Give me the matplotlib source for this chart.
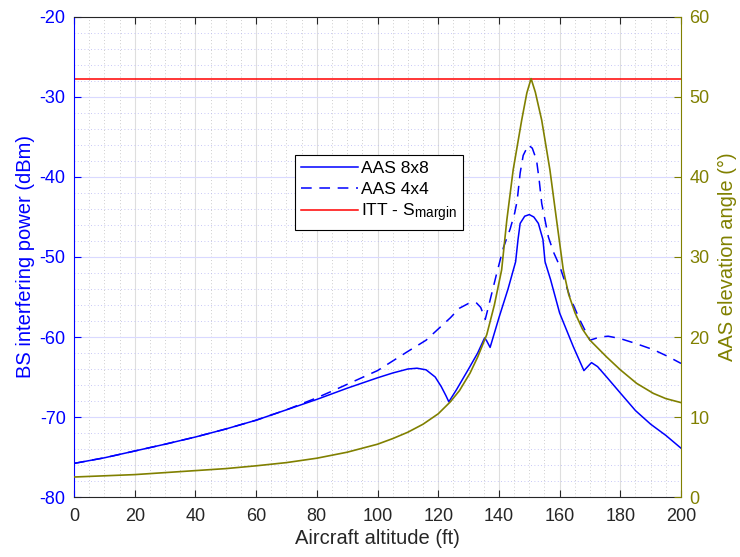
import numpy as np
import matplotlib
import matplotlib.pyplot as plt
from matplotlib.ticker import MultipleLocator

plt.rcParams['font.family'] = ['Liberation Sans', 'DejaVu Sans']
plt.rcParams['mathtext.default'] = 'regular'
plt.rcParams['axes.unicode_minus'] = False
# slightly bigger subscript, closer to the MATLAB look
matplotlib._mathtext.SHRINK_FACTOR = 0.78

# values
alt_8x8 = [0, 10, 20, 30, 40, 50, 60, 70, 80, 90, 100, 105, 110, 113, 116, 119, 121, 122.5,
           123.5, 126, 130, 133, 135.3, 136, 137.1, 140, 143, 145.5, 146.3, 147, 148.5, 150,
           151.5, 153, 154.5, 155.2, 157, 160, 164.5, 168, 170.5, 172.5, 175.5, 180, 185,
           190, 195, 200]
pwr_8x8 = [-75.8, -75.1, -74.25, -73.4, -72.5, -71.5, -70.4, -69.1, -67.8, -66.4, -65.1, -64.5,
           -64.0, -63.9, -64.1, -65.0, -66.2, -67.3, -68.1, -66.6, -64.0, -62.0, -60.1, -60.5,
           -61.3, -57.6, -54.0, -50.6, -47.8, -45.8, -44.9, -44.7, -45.0, -45.8, -47.8, -50.6,
           -52.8, -57.0, -61.2, -64.2, -63.2, -63.7, -65.0, -67.0, -69.2, -70.9, -72.3, -73.9]

alt_4x4 = [0, 10, 20, 30, 40, 50, 60, 70, 80, 86, 93, 100, 105, 110, 116, 120, 124, 127, 130,
           132.5, 134, 135.5, 136.5, 139.3, 141.5, 143.7, 145.2, 146, 147, 148, 149.7, 151,
           152.4, 153.3, 154.1, 155, 156.3, 158, 160.1, 163.4, 166.7, 170, 173.3, 176, 180,
           185, 191, 195.5, 200]
pwr_4x4 = [-75.8, -75.1, -74.25, -73.4, -72.5, -71.5, -70.4, -69.1, -67.6, -66.6, -65.4, -64.2,
           -63.0, -61.8, -60.4, -59.0, -57.6, -56.4, -55.8, -55.7, -56.3, -57.8, -56.3, -52.0,
           -48.8, -46.5, -44.5, -43.0, -39.5, -37.3, -36.0, -36.4, -37.9, -40.5, -43.3, -45.0,
           -47.5, -49.4, -51.2, -55.0, -57.9, -60.4, -60.0, -59.9, -60.2, -60.8, -61.6, -62.4,
           -63.3]

itt_margin = -27.8

alt_elev = [0, 10, 20, 30, 40, 50, 60, 70, 80, 90, 100, 105, 110, 115, 120, 124, 127, 130.5,
            133, 136, 138.5, 140.9, 142.6, 144.7, 147.5, 149.2, 150.6, 152, 154.1, 156.8, 159,
            161.2, 163, 165.1, 167.5, 170, 175.5, 180, 185.4, 190.9, 195, 200]
elev_deg = [2.5, 2.65, 2.8, 3.05, 3.3, 3.55, 3.9, 4.3, 4.85, 5.6, 6.6, 7.3, 8.1, 9.1, 10.4, 11.9,
            13.3, 15.5, 17.5, 20.3, 24.0, 28.4, 34.6, 40.9, 47.1, 50.5, 52.3, 50.6, 47.1, 40.9,
            34.6, 28.4, 25.3, 23.0, 21.0, 19.6, 17.5, 15.9, 14.2, 12.95, 12.3, 11.8]

blue = '#0000ff'
olive = '#808000'
dark = '#262626'

fig = plt.figure(figsize=(7.4, 5.57), dpi=100)
ax = fig.add_axes([0.1, 0.1077, 0.8203, 0.8618])
ax2 = ax.twinx()

ax.plot(alt_8x8, pwr_8x8, color=blue, lw=1.1, label='AAS 8x8')
ax.plot(alt_4x4, pwr_4x4, color=blue, lw=1.1, ls=(0, (7, 5)), label='AAS 4x4')
ax.plot([0, 200], [itt_margin, itt_margin], color='#ff0000', lw=1.1,
        label='ITT - S$_{margin}$')
ax2.plot(alt_elev, elev_deg, color=olive, lw=1.2)

ax.set_xlim(0, 200)
ax.set_ylim(-80, -20)
ax2.set_ylim(0, 60)
ax.set_xticks(np.arange(0, 201, 20))
ax.set_yticks(np.arange(-80, -19, 10))
ax2.set_yticks(np.arange(0, 61, 10))
ax.xaxis.set_minor_locator(MultipleLocator(5))
ax.yaxis.set_minor_locator(MultipleLocator(2))

# grid: grey verticals, bluish horizontals
ax.grid(True, which='major', axis='x', color='#dedede', lw=0.8)
ax.grid(True, which='major', axis='y', color='#d9d9ff', lw=0.8)
ax.grid(True, which='minor', axis='x', color='#bdbdbd', lw=0.6, ls=(0, (1, 3)))
ax.grid(True, which='minor', axis='y', color='#b5b5f5', lw=0.6, ls=(0, (1, 3)))
ax.set_axisbelow(True)

ax.tick_params(which='major', direction='in', length=5, labelsize=13, top=True)
ax.tick_params(which='minor', length=0)
ax.tick_params(axis='x', colors=dark, labelcolor=dark, pad=8)
ax.tick_params(axis='y', colors=blue, labelcolor=blue, pad=6)
ax2.tick_params(axis='y', direction='in', length=5, colors=olive, labelcolor=olive,
                labelsize=13, pad=6)

ax.spines['left'].set_color(blue)
ax.spines['bottom'].set_color(dark)
ax.spines['top'].set_color(dark)
ax2.spines['right'].set_color(olive)
ax2.spines['left'].set_visible(False)
ax2.spines['top'].set_visible(False)
ax2.spines['bottom'].set_visible(False)
ax.spines['right'].set_visible(False)

ax.set_xlabel('Aircraft altitude (ft)', fontsize=14.5, color=dark, labelpad=3)
ax.set_ylabel('BS interfering power (dBm)', fontsize=14.5, color=blue, labelpad=3)
ax2.set_ylabel('AAS elevation angle (°)', fontsize=14.5, color=olive, labelpad=6)

leg = ax.legend(loc='upper left', bbox_to_anchor=(0.364, 0.7125), borderaxespad=0,
                fontsize=12.5, frameon=True, fancybox=False, edgecolor='black',
                framealpha=1, borderpad=0.35, handlelength=3.3, handletextpad=0.15,
                labelspacing=0.3)
leg.get_frame().set_linewidth(0.8)

plt.savefig('out.png', dpi=100)
